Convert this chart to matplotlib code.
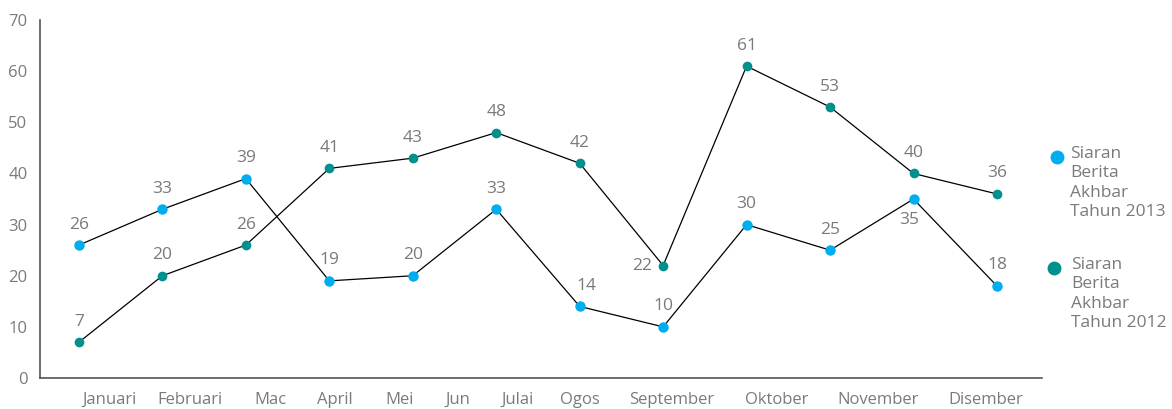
import matplotlib
matplotlib.use("Agg")
import matplotlib.pyplot as plt
from matplotlib.lines import Line2D

# Data
months = ["Januari", "Februari", "Mac", "April", "Mei", "Jun", "Julai",
          "Ogos", "September", "Oktober", "November", "Disember"]
berita_2013 = [26, 33, 39, 19, 20, 33, 14, 10, 30, 25, 35, 18]
berita_2012 = [7, 20, 26, 41, 43, 48, 42, 22, 61, 53, 40, 36]
label_2013 = "Siaran\nBerita\nAkhbar\nTahun 2013"
label_2012 = "Siaran\nBerita\nAkhbar\nTahun 2012"

# Layout (tick label positions in the original are not under the points)
tick_pos = [0.37, 1.33, 2.29, 3.07, 3.84, 4.54, 5.25, 6.0, 7.10, 8.36, 9.58, 10.86]

BLUE = "#00aeef"
TEAL = "#00918f"
GREY = "#7a7a7a"

plt.rcParams["font.family"] = ["Open Sans", "DejaVu Sans"]

fig = plt.figure(figsize=(11.72, 4.09), dpi=100)
ax = fig.add_axes([0.0341, 0.0758, 0.855, 0.875])

x = list(range(len(months)))
ax.plot(x, berita_2013, color="black", linewidth=0.9, zorder=2)
ax.plot(x, berita_2012, color="black", linewidth=0.9, zorder=2)
ax.plot(x, berita_2013, "o", color=BLUE, markersize=7.5, markeredgewidth=0, zorder=3)
ax.plot(x, berita_2012, "o", color=TEAL, markersize=7, markeredgewidth=0, zorder=3)

# Value labels
def put_labels(values, special):
    for i, v in enumerate(values):
        dx, dy, ha, va = special.get(i, (0, 9, "center", "bottom"))
        ax.annotate(str(v), (i, v), xytext=(dx, dy), textcoords="offset points",
                    ha=ha, va=va, fontsize=12.5, color=GREY)

put_labels(berita_2013, {6: (5, 9, "center", "bottom"),
                         10: (-3, -9, "center", "top")})
put_labels(berita_2012, {7: (-8, 0, "right", "center")})

ax.set_xlim(-0.467, 11.54)
ax.set_ylim(0, 70)
ax.set_yticks(range(0, 71, 10))
ax.set_xticks(tick_pos)
ax.set_xticklabels(months)
ax.tick_params(axis="both", length=0, labelsize=12, labelcolor=GREY)
ax.tick_params(axis="x", pad=10)
ax.tick_params(axis="y", pad=9)

for side in ["top", "right"]:
    ax.spines[side].set_visible(False)
for side in ["left", "bottom"]:
    ax.spines[side].set_color("#555555")
    ax.spines[side].set_linewidth(1.2)

# Legend drawn by hand so the marker sits on the first text line
for (color, label, y_mark, x_mark, x_text) in [
        (BLUE, label_2013, 1 - 157 / 409, 1057 / 1172, 1070 / 1172),
        (TEAL, label_2012, 1 - 268 / 409, 1054 / 1172, 1071 / 1172)]:
    fig.add_artist(Line2D([x_mark], [y_mark], marker="o", color=color,
                          markersize=10, markeredgewidth=0,
                          transform=fig.transFigure))
    fig.text(x_text, y_mark + 0.028, label, ha="left", va="top",
             fontsize=12.5, color=GREY, linespacing=1.3)

fig.savefig("out.png", dpi=100)
